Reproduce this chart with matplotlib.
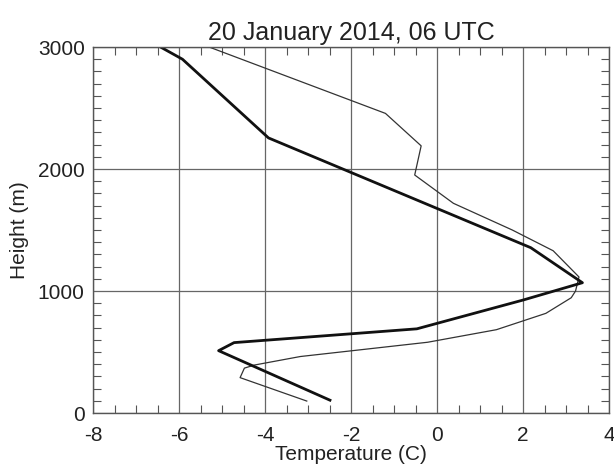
import matplotlib
matplotlib.use("Agg")
import matplotlib.pyplot as plt
from matplotlib.ticker import MultipleLocator

# thick profile
t_thick = [-2.49, -5.08, -4.72, -0.47, 2.0, 3.38, 2.18, -3.92, -5.92, -6.43]
h_thick = [105, 511, 577, 690, 926, 1068, 1355, 2255, 2900, 3000]

# thin profile
t_thin = [-3.03, -4.58, -4.48, -4.25, -3.18, -0.22, 1.38, 2.53, 3.12, 3.22, 3.30, 2.70, 1.75, 0.38, -0.52, -0.37, -1.20, -5.30]
h_thin = [98, 290, 368, 393, 463, 580, 683, 817, 945, 1000, 1115, 1330, 1500, 1719, 1951, 2190, 2456, 3000]

xticks = [-8, -6, -4, -2, 0, 2, 4]
yticks = [0, 1000, 2000, 3000]

plt.rcParams['font.family'] = ['Liberation Sans', 'DejaVu Sans']
plt.rcParams['axes.unicode_minus'] = False

fig = plt.figure(figsize=(6.14, 4.68), dpi=100)
ax = fig.add_axes([0.1515, 0.1175, 0.8405, 0.782])

ax.plot(t_thin, h_thin, color='#333333', lw=0.9)
ax.plot(t_thick, h_thick, color='#111111', lw=2.0)

ax.set_xlim(-8, 4)
ax.set_ylim(0, 3000)
ax.set_xticks(xticks)
ax.set_yticks(yticks)
ax.xaxis.set_minor_locator(MultipleLocator(0.5))
ax.yaxis.set_minor_locator(MultipleLocator(100))
ax.grid(True, which='major', color='#666666', lw=0.9)
ax.tick_params(which='both', direction='in', top=True, right=True,
               colors='#555555', labelcolor='#222222', labelsize=15)
ax.tick_params(which='major', length=0)
ax.tick_params(axis='x', which='major', pad=9)
ax.tick_params(axis='y', which='major', pad=6)
ax.tick_params(which='minor', length=6, width=0.8)
for s in ax.spines.values():
    s.set_color('#555555')
    s.set_linewidth(1.0)

ax.set_xlabel('Temperature (C)', fontsize=15, color='#222222', labelpad=0)
ax.set_ylabel('Height (m)', fontsize=15, color='#222222', labelpad=6)
ax.set_title('20 January 2014, 06 UTC', fontsize=18, color='#222222', pad=5)

fig.savefig('out.png', dpi=100)
